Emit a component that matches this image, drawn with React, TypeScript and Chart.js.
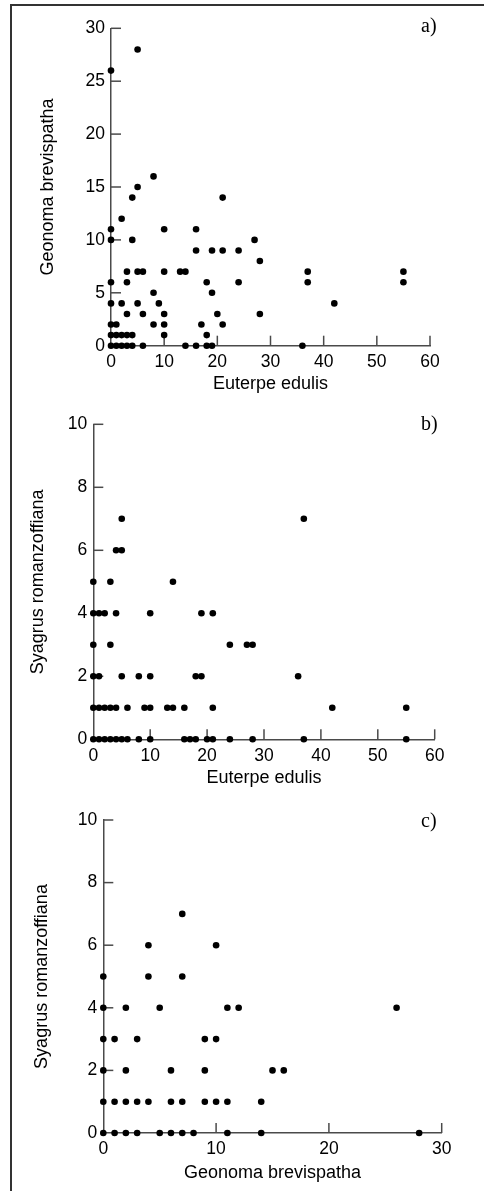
import React, { useEffect, useRef } from "react";
import { Chart, registerables } from "chart.js";

Chart.register(...registerables);

// Panel a: Euterpe edulis (x) vs Geonoma brevispatha (y)
const aEuterpe = [0, 5, 8, 5, 4, 21, 2, 0, 10, 16, 0, 4, 27, 16, 19, 21, 24, 28, 3, 5, 6, 10, 13, 14, 37, 55, 0, 3, 18, 24, 37, 55, 8, 19, 0, 2, 5, 9, 42, 3, 6, 10, 20, 28, 0, 1, 8, 10, 17, 21, 0, 1, 2, 3, 4, 10, 18, 0, 1, 2, 3, 4, 6, 14, 16, 18, 19, 36];
const aGeonoma = [26, 28, 16, 15, 14, 14, 12, 11, 11, 11, 10, 10, 10, 9, 9, 9, 9, 8, 7, 7, 7, 7, 7, 7, 7, 7, 6, 6, 6, 6, 6, 6, 5, 5, 4, 4, 4, 4, 4, 3, 3, 3, 3, 3, 2, 2, 2, 2, 2, 2, 1, 1, 1, 1, 1, 1, 1, 0, 0, 0, 0, 0, 0, 0, 0, 0, 0, 0];

// Panel b: Euterpe edulis (x) vs Syagrus romanzoffiana (y)
const bEuterpe = [5, 37, 4, 5, 0, 3, 14, 0, 1, 2, 4, 10, 19, 21, 0, 3, 24, 27, 28, 0, 1, 5, 8, 10, 18, 19, 36, 0, 1, 2, 3, 4, 6, 9, 10, 13, 14, 16, 21, 42, 55, 0, 1, 2, 3, 4, 5, 6, 8, 10, 16, 17, 18, 20, 21, 24, 28, 37, 55];
const bSyagrus = [7, 7, 6, 6, 5, 5, 5, 4, 4, 4, 4, 4, 4, 4, 3, 3, 3, 3, 3, 2, 2, 2, 2, 2, 2, 2, 2, 1, 1, 1, 1, 1, 1, 1, 1, 1, 1, 1, 1, 1, 1, 0, 0, 0, 0, 0, 0, 0, 0, 0, 0, 0, 0, 0, 0, 0, 0, 0, 0];

// Panel c: Geonoma brevispatha (x) vs Syagrus romanzoffiana (y)
const cGeonoma = [7, 4, 10, 0, 4, 7, 0, 2, 5, 11, 12, 26, 0, 1, 3, 9, 10, 0, 2, 6, 9, 15, 16, 0, 1, 2, 3, 4, 6, 7, 9, 10, 11, 14, 0, 1, 2, 3, 5, 6, 7, 8, 11, 14, 28];
const cSyagrus = [7, 6, 6, 5, 5, 5, 4, 4, 4, 4, 4, 4, 3, 3, 3, 3, 3, 2, 2, 2, 2, 2, 2, 1, 1, 1, 1, 1, 1, 1, 1, 1, 1, 1, 0, 0, 0, 0, 0, 0, 0, 0, 0, 0, 0];

const FONT = '"Liberation Sans", Arial, Helvetica, sans-serif';
const AXIS = "#4a4a4a";
const TICK_SIZE = 17.5;
const TITLE_SIZE = 18;
const LH = TITLE_SIZE * 1.2;

const innerTicks = {
  id: "innerTicks",
  beforeDatasetsDraw(chart: any) {
    const { ctx, chartArea, scales } = chart;
    ctx.save();
    ctx.strokeStyle = AXIS;
    ctx.lineWidth = 1.5;
    scales.x.ticks.forEach((t: any) => {
      if (t.value === 0) return;
      const px = scales.x.getPixelForValue(t.value);
      ctx.beginPath();
      ctx.moveTo(px, chartArea.bottom);
      ctx.lineTo(px, chartArea.bottom - 10);
      ctx.stroke();
    });
    scales.y.ticks.forEach((t: any) => {
      if (t.value === 0) return;
      const py = scales.y.getPixelForValue(t.value);
      ctx.beginPath();
      ctx.moveTo(chartArea.left, py);
      ctx.lineTo(chartArea.left + 10, py);
      ctx.stroke();
    });
    ctx.restore();
  },
};

type PanelCfg = {
  top: number;
  height: number;
  left: number;
  right: number;
  y0: number;
  y1: number;
  yTitleX: number;
  xTitleY: number;
  xTitle: string;
  yTitle: string;
  xMax: number;
  xStep: number;
  yMax: number;
  yStep: number;
  xs: number[];
  ys: number[];
};

function Panel({ cfg }: { cfg: PanelCfg }) {
  const ref = useRef<HTMLCanvasElement | null>(null);
  useEffect(() => {
    if (!ref.current) return;
    const padLeft = cfg.yTitleX - LH / 2;
    const hx = cfg.xTitleY - cfg.y1 + LH / 2;
    const padBottom = cfg.height - (cfg.y1 - cfg.top) - hx;
    const points = cfg.xs.map((x, i) => ({ x, y: cfg.ys[i] }));
    const chart = new Chart(ref.current, {
      type: "scatter",
      data: {
        datasets: [
          {
            data: points,
            backgroundColor: "#000",
            borderWidth: 0,
            pointRadius: 3.3,
            pointHoverRadius: 3.3,
            clip: false as any,
          },
        ],
      },
      options: {
        responsive: false,
        animation: false,
        events: [],
        layout: {
          padding: {
            left: padLeft,
            right: 484 - cfg.right,
            top: cfg.y0 - cfg.top,
            bottom: padBottom,
          },
        },
        plugins: { legend: { display: false }, tooltip: { enabled: false } },
        scales: {
          x: {
            type: "linear",
            min: 0,
            max: cfg.xMax,
            grid: { display: false, drawTicks: false },
            border: { display: true, color: AXIS, width: 1.5 },
            ticks: {
              stepSize: cfg.xStep,
              color: "#000",
              padding: 6,
              maxRotation: 0,
              font: { family: FONT, size: TICK_SIZE },
            },
            title: {
              display: true,
              text: cfg.xTitle,
              color: "#000",
              padding: 0,
              font: { family: FONT, size: TITLE_SIZE },
            },
            afterFit: (s: any) => {
              s.height = hx;
            },
          },
          y: {
            type: "linear",
            min: 0,
            max: cfg.yMax,
            grid: { display: false, drawTicks: false },
            border: { display: true, color: AXIS, width: 1.5 },
            ticks: {
              stepSize: cfg.yStep,
              color: "#000",
              padding: 6,
              font: { family: FONT, size: TICK_SIZE },
            },
            title: {
              display: true,
              text: cfg.yTitle,
              color: "#000",
              padding: 0,
              font: { family: FONT, size: TITLE_SIZE },
            },
            afterFit: (s: any) => {
              s.width = cfg.left - padLeft;
            },
          },
        },
      },
      plugins: [innerTicks],
    });
    return () => chart.destroy();
  }, []);
  return (
    <canvas
      ref={ref}
      width={484}
      height={cfg.height}
      style={{ position: "absolute", left: 0, top: cfg.top, width: 484, height: cfg.height }}
    />
  );
}

const panels: PanelCfg[] = [
  {
    top: 0, height: 400, left: 111, right: 430, y0: 28.3, y1: 345.7,
    yTitleX: 48, xTitleY: 384.3, xTitle: "Euterpe edulis", yTitle: "Geonoma brevispatha",
    xMax: 60, xStep: 10, yMax: 30, yStep: 5, xs: aEuterpe, ys: aGeonoma,
  },
  {
    top: 400, height: 395, left: 93.3, right: 434.7, y0: 424.3, y1: 739.3,
    yTitleX: 38, xTitleY: 777.9, xTitle: "Euterpe edulis", yTitle: "Syagrus romanzoffiana",
    xMax: 60, xStep: 10, yMax: 10, yStep: 2, xs: bEuterpe, ys: bSyagrus,
  },
  {
    top: 795, height: 396, left: 103.3, right: 441.7, y0: 820, y1: 1133,
    yTitleX: 42, xTitleY: 1172.8, xTitle: "Geonoma brevispatha", yTitle: "Syagrus romanzoffiana",
    xMax: 30, xStep: 10, yMax: 10, yStep: 2, xs: cGeonoma, ys: cSyagrus,
  },
];

const labels = [
  { text: "a)", top: 15 },
  { text: "b)", top: 413 },
  { text: "c)", top: 810 },
];

export default function App() {
  return (
    <div style={{ position: "absolute", left: 0, top: 0, width: 484, height: 1191, overflow: "hidden", background: "#fff" }}>
      <div
        style={{
          position: "absolute",
          left: 10,
          top: 3.5,
          width: 490,
          height: 1200,
          borderLeft: "2px solid #333",
          borderTop: "2px solid #333",
          boxSizing: "border-box",
        }}
      />
      {panels.map((p, i) => (
        <Panel key={i} cfg={p} />
      ))}
      {labels.map((l, i) => (
        <div
          key={i}
          style={{
            position: "absolute",
            left: 421,
            top: l.top,
            fontFamily: '"Liberation Serif", "Times New Roman", serif',
            fontSize: 20,
            lineHeight: "20px",
            color: "#000",
          }}
        >
          {l.text}
        </div>
      ))}
    </div>
  );
}
